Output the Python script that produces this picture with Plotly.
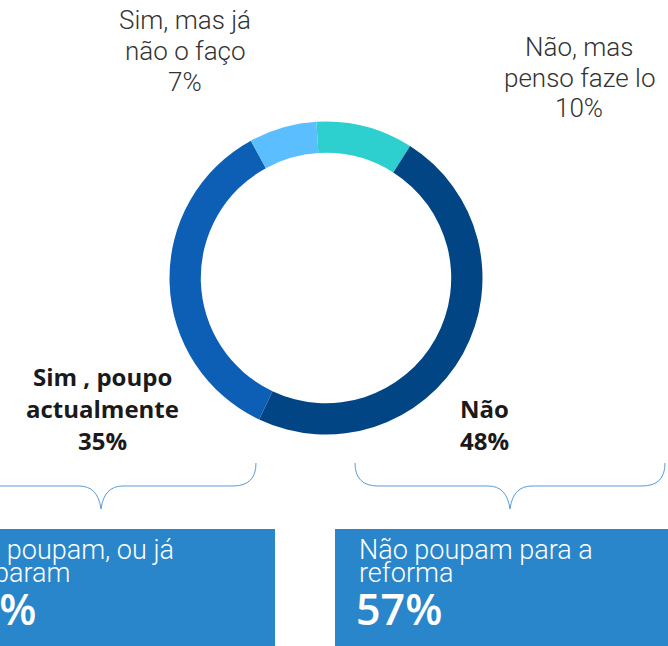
import plotly.graph_objects as go

W, H = 668, 646

# ---- data ----
labels = ["Não, mas<br>penso faze lo", "Não", "Sim , poupo<br>actualmente", "Sim, mas já<br>não o faço"]
values = [10, 48, 35, 7]
colors = ["#2ecfcf", "#024584", "#0c5fb4", "#5bbefe"]
group_labels = ["Sim, poupam, ou já<br>pouparam", "Não poupam para a<br>reforma"]
group_values = [43, 57]

def px(x):
    return x / W

def py(y):
    return 1 - y / H

cx, cy, r = 326, 278, 156.5

fig = go.Figure()
fig.add_trace(go.Pie(
    labels=labels, values=values, sort=False, direction="clockwise",
    rotation=-3.5, hole=0.8, textinfo="none", hoverinfo="label+percent",
    marker=dict(colors=colors, line=dict(width=0)),
    domain=dict(x=[px(cx - r), px(cx + r)], y=[py(cy + r), py(cy - r)]),
    showlegend=False,
))

light = dict(family="Roboto", size=26, color="#333333", weight=300)
bold = dict(family="Open Sans", size=24, color="#1a1a1a", weight=700)

annotations = []

def add_lines(lines, x, baselines, font, xanchor="center"):
    for t, b in zip(lines, baselines):
        annotations.append(dict(
            x=px(x), y=py(b), xref="paper", yref="paper", text=t,
            showarrow=False, font=font, xanchor=xanchor, yanchor="bottom",
            borderpad=0, yshift=-font["size"] * 0.28,
        ))

# top labels (light)
add_lines(labels[3].split("<br>") + [f"{values[3]}%"], 185, [29, 60, 91], light)
add_lines(labels[0].split("<br>") + [f"{values[0]}%"], 579, [56, 87, 117], light)
# bold labels
add_lines(labels[2].split("<br>") + [f"{values[2]}%"], 102, [387, 419, 451], bold)
add_lines(labels[1].split("<br>") + [f"{values[1]}%"], 484, [419, 451], bold)

# boxes
box_color = "#2a86cb"
shapes = [
    dict(type="rect", xref="paper", yref="paper", x0=px(-80), x1=px(275), y0=py(529), y1=py(660),
         fillcolor=box_color, line=dict(width=0), layer="below"),
    dict(type="rect", xref="paper", yref="paper", x0=px(335), x1=px(680), y0=py(529), y1=py(660),
         fillcolor=box_color, line=dict(width=0), layer="below"),
]

def brace(x_left, x_right, xc, y_top=463, y_mid=486, y_tip=509):
    def P(x, y):
        return f"{px(x):.5f},{py(y):.5f}"
    d = (f"M {P(x_right, y_top)} Q {P(x_right, y_mid)} {P(x_right - 23, y_mid)} "
         f"L {P(xc + 22, y_mid)} Q {P(xc + 3, y_mid)} {P(xc, y_tip)} "
         f"Q {P(xc - 3, y_mid)} {P(xc - 22, y_mid)} "
         f"L {P(x_left + 23, y_mid)} Q {P(x_left, y_mid)} {P(x_left, y_top)}")
    return dict(type="path", xref="paper", yref="paper", path=d,
                line=dict(color="#5b9bd5", width=1))

shapes.append(brace(-55, 256, 101))
shapes.append(brace(355, 665, 510))

box_font = dict(family="Roboto", size=27, color="#ffffff", weight=300)
big_font = dict(family="Open Sans", size=43, color="#ffffff", weight=600)

gl0 = group_labels[0].split("<br>")
annotations.append(dict(x=px(176), y=py(560), xref="paper", yref="paper", text=gl0[0], showarrow=False,
                        font=box_font, xanchor="right", yanchor="bottom", yshift=-7.5))
annotations.append(dict(x=px(72), y=py(583), xref="paper", yref="paper", text=gl0[1], showarrow=False,
                        font=box_font, xanchor="right", yanchor="bottom", yshift=-7.5))
annotations.append(dict(x=px(38), y=py(628), xref="paper", yref="paper", text=f"{group_values[0]}%", showarrow=False,
                        font=big_font, xanchor="right", yanchor="bottom", yshift=-12))

gl1 = group_labels[1].split("<br>")
annotations.append(dict(x=px(357), y=py(560), xref="paper", yref="paper", text=gl1[0], showarrow=False,
                        font=box_font, xanchor="left", yanchor="bottom", yshift=-7.5))
annotations.append(dict(x=px(357), y=py(583), xref="paper", yref="paper", text=gl1[1], showarrow=False,
                        font=box_font, xanchor="left", yanchor="bottom", yshift=-7.5))
annotations.append(dict(x=px(354), y=py(628), xref="paper", yref="paper", text=f"{group_values[1]}%", showarrow=False,
                        font=big_font, xanchor="left", yanchor="bottom", yshift=-12))

fig.update_layout(
    width=W, height=H, margin=dict(l=0, r=0, t=0, b=0),
    paper_bgcolor="white", plot_bgcolor="white",
    shapes=shapes, annotations=annotations,
)

fig.write_html("out.html", config={"displayModeBar": False},
               post_script="document.body.style.margin='0px';document.body.style.overflow='hidden';")
